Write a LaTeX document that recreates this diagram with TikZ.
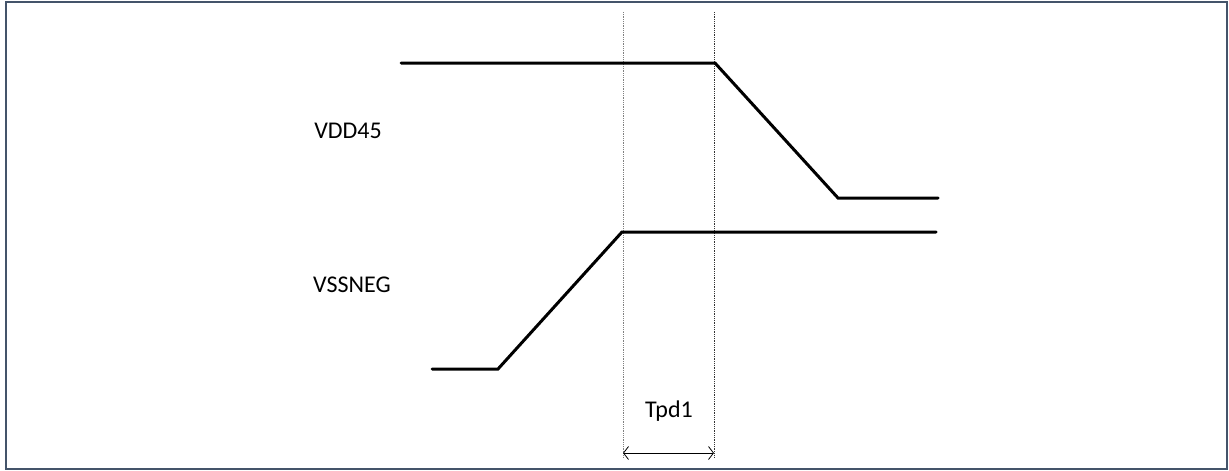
\documentclass[tikz,border=0pt]{standalone}
\usepackage{fontspec}
\setmainfont{Carlito}
\usetikzlibrary{arrows.meta}
\definecolor{framecol}{HTML}{44546A}
\begin{document}
\begin{tikzpicture}[x=1pt,y=-1pt,
  wave/.style={line width=3pt,line join=miter,line cap=round},
  guide/.style={line width=0.8pt,densely dotted},
  lbl/.style={font=\fontsize{24}{28}\selectfont,inner sep=0pt,anchor=center},
  dim/.style={line width=0.8pt,{Straight Barb[length=5pt,width=13pt]}-{Straight Barb[length=5pt,width=13pt]}}]
\useasboundingbox (0,0) rectangle (1229,471);
\draw[framecol,line width=2.5pt] (6,2) rectangle (1227,469);
% guides
\coordinate (g1t) at (623,12); \coordinate (g1b) at (623,458);
\coordinate (g2t) at (714,12); \coordinate (g2b) at (714,458);
\draw[guide,gray] (g1t) -- (g1b);
\draw[guide,black!80] (g2t) -- (g2b);
% VDD45
\coordinate (a1) at (401,63); \coordinate (a2) at (715,63);
\coordinate (a3) at (838,198); \coordinate (a4) at (938,198);
\draw[wave] (a1) -- (a2) -- (a3) -- (a4);
% VSSNEG
\coordinate (b1) at (432,369); \coordinate (b2) at (498,369);
\coordinate (b3) at (622,232); \coordinate (b4) at (936,232);
\draw[wave] (b1) -- (b2) -- (b3) -- (b4);
% dimension
\coordinate (d1) at (623,453); \coordinate (d2) at (714,453);
\draw[dim] (d1) -- (d2);
% labels
\node[lbl] (vdd) at (348,131) {VDD45};
\node[lbl] (vss) at (352,285) {VSSNEG};
\node[lbl] (tpd) at (669,411) {Tpd1};
\end{tikzpicture}
\end{document}
